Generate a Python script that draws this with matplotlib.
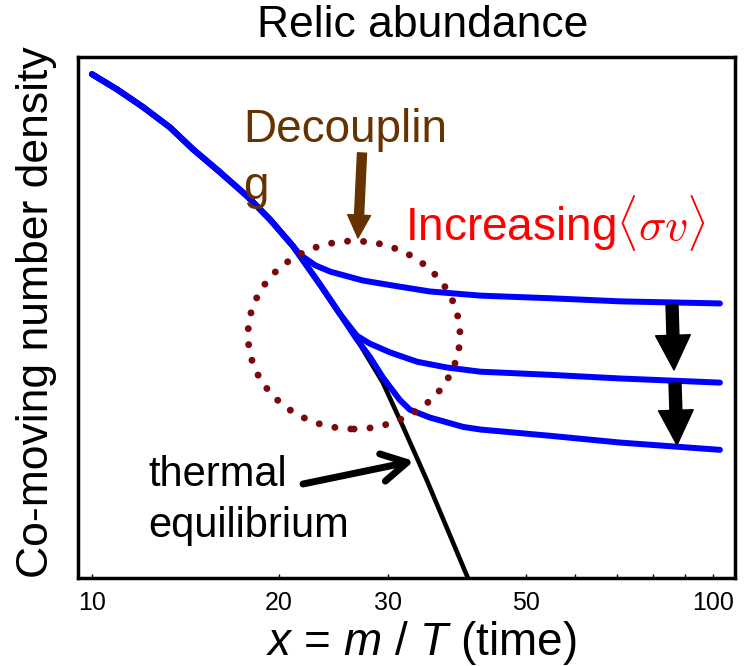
import matplotlib
matplotlib.use("Agg")
import matplotlib.pyplot as plt
from matplotlib.patches import Ellipse
import numpy as np

plt.rcParams['font.family'] = ['Liberation Sans', 'DejaVu Sans']
plt.rcParams['mathtext.fontset'] = 'custom'
plt.rcParams['mathtext.rm'] = 'Liberation Sans'
plt.rcParams['mathtext.it'] = 'Liberation Sans:italic'

# x = m/T and co-moving density (arbitrary log units)
eq_x = [10.0, 10.97, 12.08, 13.35, 14.54, 16.07, 17.77, 19.35, 21.07, 23.3, 25.1, 26.7, 29.4, 31.7, 34.6, 40.3]
eq_y = [9.67, 9.38, 9.04, 8.65, 8.23, 7.79, 7.33, 6.88, 6.37, 5.63, 5.06, 4.58, 3.75, 2.90, 1.88, 0.0]

# freeze-out curves, weakest to strongest annihilation
fo1_x = [10.0, 10.97, 12.08, 13.35, 14.54, 16.07, 17.77, 19.35, 21.07, 21.6, 22.9, 24.2, 27.3, 31.0, 35.0, 42.2, 54.6, 70.8, 102.6]
fo1_y = [9.67, 9.38, 9.04, 8.65, 8.23, 7.79, 7.33, 6.88, 6.37, 6.21, 6.00, 5.88, 5.71, 5.60, 5.50, 5.42, 5.37, 5.31, 5.27]

fo2_x = [10.0, 10.97, 12.08, 13.35, 14.54, 16.07, 17.77, 19.35, 21.07, 23.3, 25.1, 26.7, 28.0, 30.2, 33.4, 37.3, 42.2, 54.6, 70.8, 102.6]
fo2_y = [9.67, 9.38, 9.04, 8.65, 8.23, 7.79, 7.33, 6.88, 6.37, 5.63, 5.06, 4.65, 4.50, 4.33, 4.15, 4.04, 3.96, 3.90, 3.83, 3.75]

fo3_x = [10.0, 10.97, 12.08, 13.35, 14.54, 16.07, 17.77, 19.35, 21.07, 23.3, 25.1, 26.7, 28.0, 29.4, 31.3, 32.5, 35.0, 39.6, 42.2, 54.6, 70.8, 102.6]
fo3_y = [9.67, 9.38, 9.04, 8.65, 8.23, 7.79, 7.33, 6.88, 6.37, 5.63, 5.06, 4.58, 4.25, 3.85, 3.42, 3.23, 3.08, 2.90, 2.85, 2.73, 2.60, 2.46]

major_ticks = [10, 20, 30, 50, 100]
tick_labels = ['10', '20', '30', '50', '100']
minor_ticks = [40, 60, 70, 80, 90]

W, H = 748, 666


def fx(x):
    return x / W


def fy(y):
    return 1 - y / H


fig = plt.figure(figsize=(W / 100, H / 100), dpi=100)
ax = fig.add_axes([fx(77.5), fy(578), (735 - 77.5) / W, (578 - 57) / H])

ax.plot(eq_x, eq_y, color='black', lw=3.3, zorder=2)
for xs, ys in [(fo1_x, fo1_y), (fo2_x, fo2_y), (fo3_x, fo3_y)]:
    ax.plot(xs, ys, color='#0000ff', lw=4.3, solid_capstyle='round',
            solid_joinstyle='round', zorder=3)

ax.set_xscale('log')
ax.set_xlim(9.477, 108.5)
ax.set_ylim(0, 10)
ax.set_xticks(major_ticks)
ax.set_xticklabels(tick_labels)
ax.set_xticks(minor_ticks, minor=True)
ax.xaxis.set_minor_formatter(plt.NullFormatter())
ax.tick_params(axis='x', which='both', direction='in', length=3, width=1,
               labelsize=18, pad=9)
ax.set_yticks([])
for s in ax.spines.values():
    s.set_linewidth(2.5)

# decoupling region
circ = Ellipse((0.4205, 0.4664), 0.3224, 0.3608, transform=ax.transAxes,
               fill=False, edgecolor='#7a0a0a', lw=5,
               linestyle=(0, (0.01, 2.3)), zorder=4)
circ.set_capstyle('round')
ax.add_patch(circ)

# texts (multi-line ones are anchored at the last baseline)
fig.text(fx(423), fy(37), 'Relic abundance', ha='center', va='baseline', fontsize=32)
fig.text(fx(37), fy(312), 'Co-moving number density', rotation=90,
         ha='center', va='center', fontsize=32)
fig.text(fx(421), fy(655), '$x$ = $m$ / $T$ (time)', ha='center',
         va='baseline', fontsize=33)
fig.text(fx(243), fy(199), 'Decouplin\ng', color='#663300', fontsize=33,
         ha='left', va='baseline', linespacing=1.38)
fig.text(fx(405), fy(240), r'Increasing$\langle\sigma v\rangle$', color='red',
         fontsize=33, ha='left', va='baseline', math_fontfamily='cm')
fig.text(fx(148), fy(537), 'thermal\nequilibrium', color='black', fontsize=30,
         ha='left', va='baseline', linespacing=1.37)

# arrows (figure pixel coordinates)
def arrow(x0, y0, x1, y1, color, style, **kw):
    ax.annotate('', xy=(x1, H - y1), xytext=(x0, H - y0),
                xycoords='figure pixels', textcoords='figure pixels',
                arrowprops=dict(arrowstyle=style, color=color, shrinkA=0,
                                shrinkB=0, mutation_scale=1, **kw),
                zorder=6)


arrow(362, 153, 358, 238, '#663300',
      'simple,head_width=16.5,head_length=16.5,tail_width=6.5')
arrow(672, 305, 674, 370, 'black',
      'simple,head_width=25,head_length=25,tail_width=8.6')
arrow(675, 383, 677, 445, 'black',
      'simple,head_width=25,head_length=25,tail_width=8.6')
arrow(303, 484, 414, 461, 'black', '->,head_length=18,head_width=10',
      lw=5, capstyle='round', joinstyle='round')

fig.savefig('out.png', dpi=100)
